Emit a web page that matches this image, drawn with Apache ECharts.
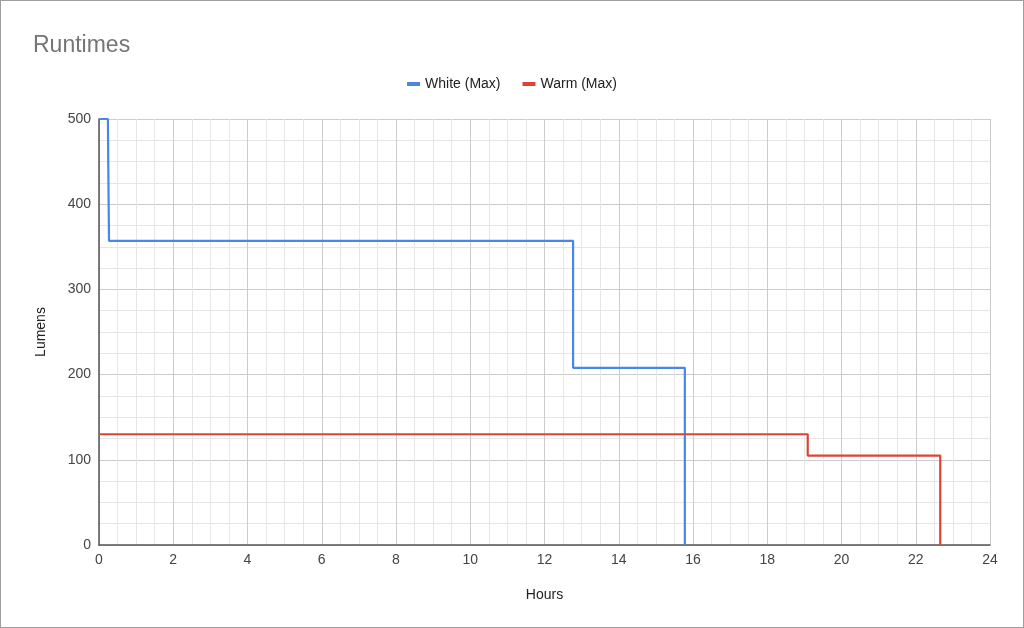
<!DOCTYPE html>
<html><head><meta charset="utf-8">
<script src="https://cdn.jsdelivr.net/npm/echarts@6/dist/echarts.min.js"></script>
<style>
html,body{margin:0;padding:0;background:#fff;}
#c{width:1022px;height:626px;border:1px solid #9e9e9e;}
</style></head>
<body><div id="c"></div>
<script>
const seriesNames = ['White (Max)', 'Warm (Max)'];
const whiteHours  = [0, 0.24, 0.25, 0.27, 12.77, 12.77, 15.78, 15.78];
const whiteLumens = [500, 500, 445, 357, 357, 208, 208, 0];
const warmHours   = [0, 19.09, 19.09, 22.66, 22.66];
const warmLumens  = [130, 130, 105, 105, 0];
const xTicks = [0, 2, 4, 6, 8, 10, 12, 14, 16, 18, 20, 22, 24];
const yTicks = [0, 100, 200, 300, 400, 500];

const font = 'Arial, "Liberation Sans", sans-serif';
const chart = echarts.init(document.getElementById('c'));
chart.setOption({
  animation: false,
  title: {text: 'Runtimes', left: 27, top: 28, textStyle: {fontFamily: font, fontSize: 23, fontWeight: 'normal', color: '#757575'}},
  legend: {top: 71, left: 'center', itemWidth: 13, itemHeight: 4, itemGap: 22, icon: 'rect',
    textStyle: {fontFamily: font, fontSize: 14, color: '#222'}, data: seriesNames},
  grid: {left: 98, right: 33, top: 118, bottom: 82},
  xAxis: {type: 'value', min: xTicks[0], max: xTicks[xTicks.length-1], interval: 2,
    name: 'Hours', nameLocation: 'middle', nameGap: 43,
    nameTextStyle: {fontFamily: font, fontSize: 14, color: '#222'},
    axisLine: {show: true, lineStyle: {color: '#555', width: 1.5}}, axisTick: {show: false},
    axisLabel: {fontFamily: font, fontSize: 14, color: '#444', margin: 8},
    splitLine: {show: true, lineStyle: {color: '#cccccc'}},
    minorTick: {show: false, splitNumber: 4},
    minorSplitLine: {show: true, lineStyle: {color: '#e6e6e6'}}},
  yAxis: {type: 'value', min: yTicks[0], max: yTicks[yTicks.length-1], interval: 100,
    name: 'Lumens', nameLocation: 'middle', nameGap: 51, nameRotate: 90,
    nameTextStyle: {fontFamily: font, fontSize: 14, color: '#222'},
    axisLine: {show: true, lineStyle: {color: '#555', width: 1.5}}, axisTick: {show: false},
    axisLabel: {fontFamily: font, fontSize: 14, color: '#444', margin: 8},
    splitLine: {show: true, lineStyle: {color: '#cccccc'}},
    minorTick: {show: false, splitNumber: 4},
    minorSplitLine: {show: true, lineStyle: {color: '#e6e6e6'}}},
  series: [
    {name: seriesNames[0], type: 'line', showSymbol: false, color: '#4a86e8', lineStyle: {width: 2.2},
      data: whiteHours.map((h, i) => [h, whiteLumens[i]])},
    {name: seriesNames[1], type: 'line', showSymbol: false, color: '#db4437', lineStyle: {width: 2.2},
      data: warmHours.map((h, i) => [h, warmLumens[i]])}
  ]
});
</script></body></html>
